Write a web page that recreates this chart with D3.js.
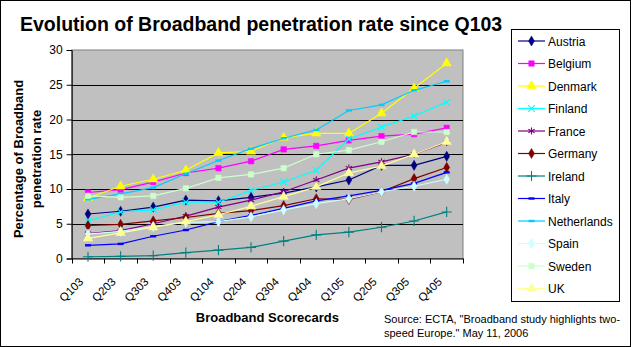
<!DOCTYPE html>
<html>
<meta charset="utf-8">
<style>
  body { margin: 0; background: #fff; }
  text { font-family: "Liberation Sans", Arial, sans-serif; fill: #000; }
</style>

<body>
  <svg></svg>
</body>

<script src="https://d3js.org/d3.v7.min.js"></script>

<script>

  var W = 631, H = 347;
  var plot = { left: 71.7, right: 463, top: 50, bottom: 258.5 };

  // data
  var quarters = ["Q103", "Q203", "Q303", "Q403", "Q104", "Q204", "Q304", "Q404", "Q105", "Q205", "Q305", "Q405"];
  var yTicks = [0, 5, 10, 15, 20, 25, 30];

  var austria     = [6.4, 6.8, 7.4, 8.4, 8.3, 8.8, 9.4, 10.3, 11.3, 13.4, 13.4, 14.7];
  var belgium     = [9.5, 9.9, 11.0, 12.3, 13.0, 14.0, 15.7, 16.2, 17.0, 17.6, 17.9, 18.8];
  var denmark     = [8.7, 10.4, 11.4, 12.7, 15.2, 15.4, 17.4, 18.0, 18.0, 20.9, 24.5, 28.1];
  var finland     = [5.4, 6.7, 7.0, 8.1, 8.1, 9.8, 11.0, 12.7, 17.2, 18.9, 20.5, 22.5];
  var france      = [3.6, 4.0, 5.0, 6.1, 7.4, 8.4, 9.6, 11.3, 13.0, 13.9, 15.0, 16.7];
  var germany     = [4.75, 4.9, 5.4, 5.9, 6.5, 6.9, 7.6, 8.6, 8.5, 9.6, 11.5, 13.1];
  var ireland     = [0.25, 0.3, 0.4, 0.85, 1.2, 1.6, 2.5, 3.4, 3.8, 4.5, 5.4, 6.7];
  var italy       = [1.9, 2.1, 3.2, 4.1, 5.3, 6.2, 7.2, 8.3, 9.0, 9.8, 10.8, 12.4];
  var netherlands = [8.5, 9.3, 10.2, 12.2, 14.1, 15.8, 17.3, 18.5, 21.3, 22.1, 24.2, 25.5];
  var spain       = [3.5, 3.9, 4.6, 5.2, 5.3, 6.0, 7.0, 7.9, 8.6, 9.6, 10.4, 11.4];
  var sweden      = [9.0, 8.8, 9.0, 10.1, 11.6, 12.1, 13.0, 15.0, 15.6, 16.8, 18.2, 18.2];
  var uk          = [2.9, 3.7, 4.5, 5.3, 6.3, 7.5, 8.9, 10.3, 12.3, 13.3, 15.0, 16.8];

  var series = [
    { name: "Austria", values: austria, color: "#000080", marker: "diamond" },
    { name: "Belgium", values: belgium, color: "#FF00FF", marker: "square" },
    { name: "Denmark", values: denmark, color: "#FFFF00", marker: "triangle" },
    { name: "Finland", values: finland, color: "#00FFFF", marker: "x" },
    { name: "France", values: france, color: "#800080", marker: "star" },
    { name: "Germany", values: germany, color: "#800000", marker: "diamond" },
    { name: "Ireland", values: ireland, color: "#008080", marker: "plus" },
    { name: "Italy", values: italy, color: "#0000FF", marker: "dash" },
    { name: "Netherlands", values: netherlands, color: "#00CCFF", marker: "dash" },
    { name: "Spain", values: spain, color: "#CCFFFF", marker: "diamond" },
    { name: "Sweden", values: sweden, color: "#CCFFCC", marker: "square" },
    { name: "UK", values: uk, color: "#FFFF99", marker: "triangle" }
  ];

  var svg = d3.select("svg")
    .attr("width", W)
    .attr("height", H);

  // outer frame
  svg.append("rect")
    .attr("x", 0.5).attr("y", 0.5)
    .attr("width", W - 1).attr("height", H - 1)
    .attr("fill", "#fff").attr("stroke", "#000");

  // scales
  var x = d3.scaleBand()
    .domain(quarters)
    .range([plot.left, plot.right]);

  var y = d3.scaleLinear()
    .domain([0, 30])
    .range([plot.bottom, plot.top]);

  // plot area
  svg.append("rect")
    .attr("x", plot.left).attr("y", plot.top)
    .attr("width", plot.right - plot.left).attr("height", plot.bottom - plot.top)
    .attr("fill", "#C0C0C0").attr("stroke", "#808080");

  // gridlines
  svg.append("g").selectAll("line")
    .data(yTicks.filter(d => d > 0 && d < 30))
    .enter().append("line")
    .attr("x1", plot.left).attr("x2", plot.right)
    .attr("y1", d => Math.round(y(d)) + 0.5).attr("y2", d => Math.round(y(d)) + 0.5)
    .attr("stroke", "#000");

  // y axis
  var yAxis = d3.axisLeft(y).tickValues(yTicks).tickSize(5).tickPadding(4);
  var gy = svg.append("g")
    .attr("transform", "translate(" + plot.left + ",0)")
    .call(yAxis);
  gy.select(".domain").attr("stroke", "#000");
  gy.selectAll("text").style("font-size", "12px").attr("font-family", null);

  // x axis: ticks on category boundaries
  var xAxis = d3.axisBottom(x).tickSize(0).tickFormat("");
  var gx = svg.append("g")
    .attr("transform", "translate(0," + plot.bottom + ")")
    .call(xAxis);
  gx.select(".domain").attr("stroke", "#000");

  svg.append("g").selectAll("line")
    .data(d3.range(quarters.length + 1))
    .enter().append("line")
    .attr("x1", i => Math.round(plot.left + i * x.step()) + 0.5)
    .attr("x2", i => Math.round(plot.left + i * x.step()) + 0.5)
    .attr("y1", plot.bottom).attr("y2", plot.bottom + 5)
    .attr("stroke", "#000");

  svg.append("g").selectAll("text")
    .data(quarters)
    .enter().append("text")
    .attr("text-anchor", "end")
    .style("font-size", "11.5px")
    .attr("transform", d => "translate(" + (x(d) + x.bandwidth() / 2 - 4) + "," + (plot.bottom + 24) + ") rotate(-45)")
    .text(d => d);

  // lines and markers
  var line = d3.line()
    .x((d, i) => x(quarters[i]) + x.bandwidth() / 2)
    .y(d => y(d));

  function markerPath(type) {
    if (type === "diamond") return d3.symbol(d3.symbolDiamond, 30)();
    if (type === "square") return d3.symbol(d3.symbolSquare, 30)();
    if (type === "triangle") return d3.symbol(d3.symbolTriangle, 38)();
    if (type === "x") return d3.symbol(d3.symbolTimes, 30)();
    if (type === "plus") return d3.symbol(d3.symbolPlus, 36)();
    if (type === "star") return d3.symbol(d3.symbolAsterisk, 36)();
    return "M-3,0H3";
  }

  function drawMarker(g, s, cx, cy) {
    var stroked = ["x", "plus", "star", "dash"].indexOf(s.marker) >= 0;
    g.append("path")
      .attr("d", markerPath(s.marker))
      .attr("transform", "translate(" + cx + "," + cy + ")")
      .attr("fill", stroked ? "none" : s.color)
      .attr("stroke", s.color)
      .attr("stroke-width", s.marker === "dash" ? 2.4 : (stroked ? 1.1 : 0.5));
  }

  series.forEach(function (s) {
    var g = svg.append("g");
    g.append("path")
      .datum(s.values)
      .attr("d", line)
      .attr("fill", "none")
      .attr("stroke", s.color)
      .attr("stroke-width", 1.2);
    s.values.forEach(function (v, i) {
      drawMarker(g, s, x(quarters[i]) + x.bandwidth() / 2, y(v));
    });
  });

  // title
  svg.append("text")
    .attr("x", 20).attr("y", 31)
    .style("font-size", "19.5px").style("font-weight", "bold")
    .text("Evolution of Broadband penetration rate since Q103");

  // axis titles
  var yt = svg.append("text")
    .attr("transform", "translate(0,159) rotate(-90)")
    .attr("text-anchor", "middle")
    .style("font-size", "13px").style("font-weight", "bold");
  yt.append("tspan").attr("x", 0).attr("y", 23).text("Percentage of Broadband");
  yt.append("tspan").attr("x", 0).attr("y", 40.5).text("penetration rate");

  svg.append("text")
    .attr("x", (plot.left + plot.right) / 2).attr("y", 322)
    .attr("text-anchor", "middle")
    .style("font-size", "13px").style("font-weight", "bold")
    .text("Broadband Scorecards");

  // source note
  var src = svg.append("text").style("font-size", "11px");
  src.append("tspan").attr("x", 384).attr("y", 323).text("Source: ECTA, \"Broadband study highlights two-");
  src.append("tspan").attr("x", 384).attr("y", 337).text("speed Europe.\" May 11, 2006");

  // legend
  var legend = svg.append("g");
  legend.append("rect")
    .attr("x", 511.5).attr("y", 29.5)
    .attr("width", 108).attr("height", 272)
    .attr("fill", "#fff").attr("stroke", "#000");

  series.forEach(function (s, i) {
    var ly = 41 + i * 22.5;
    var g = legend.append("g");
    g.append("line")
      .attr("x1", 518).attr("x2", 545)
      .attr("y1", ly).attr("y2", ly)
      .attr("stroke", s.color).attr("stroke-width", 1.2);
    drawMarker(g, s, 531.5, ly);
    g.append("text")
      .attr("x", 548).attr("y", ly + 4.5)
      .style("font-size", "12px")
      .text(s.name);
  });

</script>

</html>
